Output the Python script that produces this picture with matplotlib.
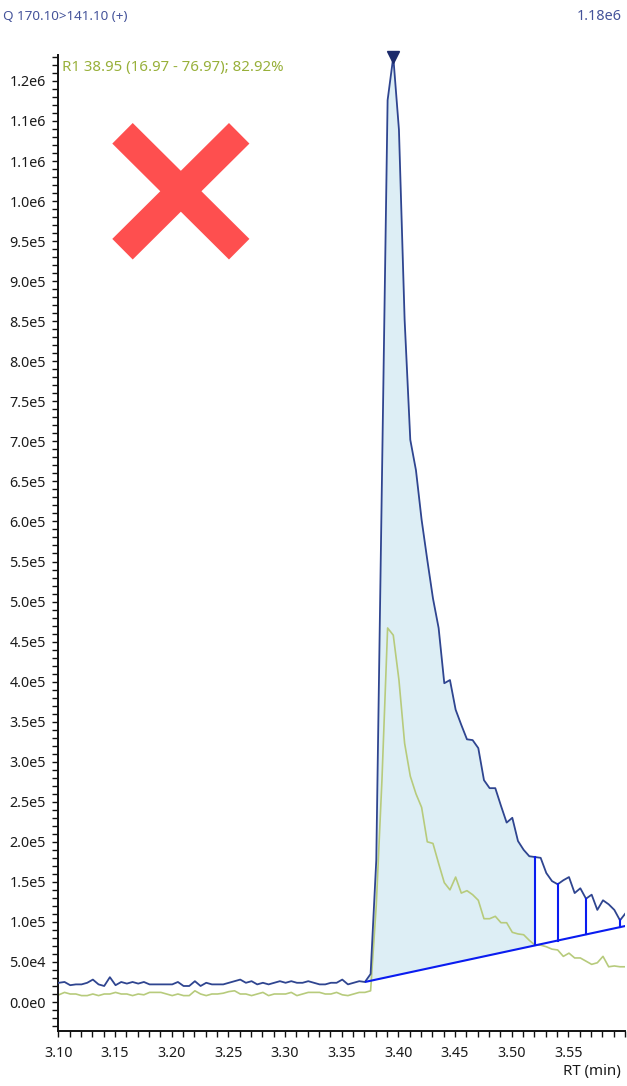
import numpy as np
import matplotlib
matplotlib.use("Agg")
import matplotlib.pyplot as plt
from matplotlib.lines import Line2D
from matplotlib.ticker import FixedLocator, MultipleLocator

plt.rcParams['font.family'] = ['Noto Sans', 'DejaVu Sans']

# Retention-time sampling (min)
rt_start = 3.1005
rt_step = 0.005
n_points = 101
rt = rt_start + rt_step * np.arange(n_points)

# Quantifier trace intensities (x1000 counts)
quant_k = [24, 25, 21, 22, 22, 24, 28, 22, 20, 31,
           21, 25, 23, 25, 23, 25, 22, 22, 22, 22,
           22, 25, 20, 20, 26, 20, 24, 22, 22, 22,
           24, 26, 28, 24, 26, 22, 24, 22, 24, 26,
           24, 26, 24, 24, 26, 24, 22, 22, 24, 24,
           28, 22, 24, 26, 25,
           35, 177, 652, 1126, 1180,
           1089, 852, 702, 664, 602, 552, 504, 467, 398, 402,
           365, 346, 328, 327, 317, 277, 267, 267, 245, 224,
           230, 201, 190, 182, 181, 180, 161, 151, 147, 152,
           156, 136, 142, 129, 134, 115, 127, 122, 115, 102,
           111]

# Qualifier trace intensities (x1000 counts)
qual_k = [9, 12, 10, 10, 8, 8, 10, 8, 10, 10,
          12, 10, 10, 8, 10, 9, 12, 12, 12, 10,
          8, 10, 8, 8, 14, 10, 8, 10, 10, 11,
          13, 14, 10, 10, 8, 10, 12, 8, 10, 10,
          10, 12, 8, 10, 12, 12, 12, 10, 10, 12,
          9, 8, 10, 12, 12,
          14, 121, 277, 467, 458,
          402, 323, 282, 260, 243, 200, 198, 173, 149, 140,
          156, 136, 139, 134, 127, 104, 104, 107, 99, 99,
          87, 85, 84, 77, 71, 71, 69, 66, 65, 57,
          61, 55, 55, 51, 47, 49, 57, 44, 45, 44,
          44]

quant = np.array(quant_k) * 1e3
qual = np.array(qual_k) * 1e3

# Integration: start index, peak end index, extra split indices, baseline end value
peak_start = 54
peak_end = 84
split_idx = [84, 88, 93, 99]
baseline_end_value = 95e3
apex_idx = 59

# Axis ticks
y_major = [i * 5e4 for i in range(24)]
y_labels = ['0.0e0', '5.0e4', '1.0e5', '1.5e5', '2.0e5', '2.5e5', '3.0e5', '3.5e5',
            '4.0e5', '4.5e5', '5.0e5', '5.5e5', '6.0e5', '6.5e5', '7.0e5', '7.5e5',
            '8.0e5', '8.5e5', '9.0e5', '9.5e5', '1.0e6', '1.1e6', '1.1e6', '1.2e6']
x_major = [3.10, 3.15, 3.20, 3.25, 3.30, 3.35, 3.40, 3.45, 3.50, 3.55]
x_labels = ['3.10', '3.15', '3.20', '3.25', '3.30', '3.35', '3.40', '3.45', '3.50', '3.55']

title_left = 'Q 170.10>141.10 (+)'
title_right = '1.18e6'
peak_note = 'R1 38.95 (16.97 - 76.97); 82.92%'
x_title = 'RT (min)'

BLUE = '#2f4590'
GREEN = '#b7cb7c'
FILL = '#ddeef5'
BASE = '#0a1cf0'
HEAD = '#44539a'
NOTE = '#98b03a'

W, H = 627, 1086
fig = plt.figure(figsize=(W / 100, H / 100), dpi=100)
ax_l, ax_r, ax_t, ax_b = 58.3, 625.1, 55, 1031
ax = fig.add_axes([ax_l / W, 1 - ax_b / H, (ax_r - ax_l) / W, (ax_b - ax_t) / H])
ax.set_xlim(3.10, 3.60)
ax.set_ylim(-3.62e4, 1.1824e6)

# baseline across the integrated region
bl_x = np.array([rt[peak_start], rt[-1]])
bl_y = np.array([quant[peak_start], baseline_end_value])
baseline = np.interp(rt, bl_x, bl_y)

seg = slice(peak_start, peak_end + 1)
ax.fill_between(rt[seg], baseline[seg], quant[seg], color=FILL, lw=0, zorder=1)

ax.plot(rt, qual, color=GREEN, lw=1.2, zorder=2)
ax.plot(rt, quant, color=BLUE, lw=1.3, zorder=3)
ax.plot(bl_x, bl_y, color=BASE, lw=1.5, zorder=4, solid_capstyle='butt')
for i in split_idx:
    ax.plot([rt[i], rt[i]], [baseline[i], quant[i]], color=BASE, lw=1.5, zorder=4)

ax.plot([rt[apex_idx]], [quant[apex_idx]], marker='v', ms=8, color='#1b2a6b',
        clip_on=False, zorder=5)

# axes styling
for s in ('top', 'right'):
    ax.spines[s].set_visible(False)
for s in ('left', 'bottom'):
    ax.spines[s].set_linewidth(1.4)
    ax.spines[s].set_color('#111111')

ax.yaxis.set_major_locator(FixedLocator(y_major))
ax.set_yticklabels(y_labels)
ax.yaxis.set_minor_locator(MultipleLocator(1e4))
ax.xaxis.set_major_locator(FixedLocator(x_major))
ax.set_xticklabels(x_labels)
ax.xaxis.set_minor_locator(MultipleLocator(0.01))

ax.tick_params(axis='y', which='both', direction='out', length=4.5, width=1.0,
               color='#111111', labelsize=10.3, labelcolor='#1a1a1a', pad=4.5)
ax.tick_params(axis='x', which='both', direction='out', length=4.5, width=1.0,
               color='#111111', labelsize=10.3, labelcolor='#1a1a1a', pad=6)

# header and annotations
fig.text(3 / W, 1 - 16 / H, title_left, color=HEAD, fontsize=9.7, ha='left', va='center')
fig.text(622 / W, 1 - 16 / H, title_right, color=HEAD, fontsize=10.4, ha='right', va='center')
fig.text(62 / W, 1 - 67 / H, peak_note, color=NOTE, fontsize=10.8, ha='left', va='center')
fig.text(621 / W, 1 - 1071 / H, x_title, color='#1a1a1a', fontsize=10.8, ha='right', va='center')

# red cross mark
red = '#fe4f4f'
for (x0, y0), (x1, y1) in [((122.5, 133.3), (239.2, 249.2)), ((239.2, 133.3), (122.5, 249.2))]:
    fig.add_artist(Line2D([x0 / W, x1 / W], [1 - y0 / H, 1 - y1 / H], color=red,
                          lw=29 * 0.72, solid_capstyle='butt', transform=fig.transFigure))

fig.savefig('out.png', dpi=100)
